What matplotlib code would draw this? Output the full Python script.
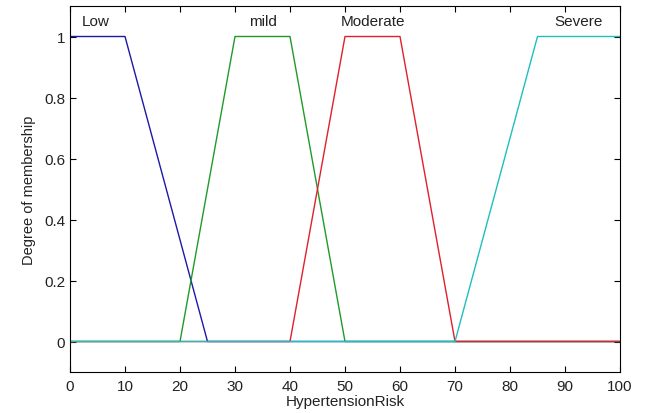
import matplotlib
matplotlib.use("Agg")
import matplotlib.pyplot as plt
import numpy as np

# membership functions (trapezoid corners)
mf_names = ["Low", "mild", "Moderate", "Severe"]
mf_params = [[0, 0, 10, 25], [20, 30, 40, 50], [40, 50, 60, 70], [70, 85, 100, 100]]
mf_colors = ["#1a1aa8", "#1f9a2a", "#e0202a", "#1fbfbf"]
label_x = [4.7, 35, 55, 92.5]
x_ticks = list(range(0, 101, 10))
y_ticks = [0, 0.2, 0.4, 0.6, 0.8, 1]
y_ticklabels = ["0", "0.2", "0.4", "0.6", "0.8", "1"]


def trapmf(x, p):
    a, b, c, d = p
    y = np.ones_like(x, dtype=float)
    if b > a:
        y = np.minimum(y, (x - a) / (b - a))
    else:
        y = np.where(x < a, 0.0, y)
    if d > c:
        y = np.minimum(y, (d - x) / (d - c))
    else:
        y = np.where(x > d, 0.0, y)
    return np.clip(y, 0, 1)


plt.rcParams['font.family'] = ['Liberation Sans', 'DejaVu Sans']
fig = plt.figure(figsize=(6.45, 4.14), dpi=100)
ax = fig.add_axes([70 / 645, 41 / 414, 550 / 645, 366 / 414])

xs = np.linspace(0, 100, 1001)
for name, p, c, lx in zip(mf_names, mf_params, mf_colors, label_x):
    ax.plot(xs, trapmf(xs, p), color=c, linewidth=1)
    ax.text(lx, 1.05, name, ha='center', va='center', fontsize=11, color='#222222')

ax.set_xlim(0, 100)
ax.set_ylim(-0.1, 1.1)
ax.set_xticks(x_ticks)
ax.set_yticks(y_ticks)
ax.set_yticklabels(y_ticklabels)
ax.tick_params(direction='in', top=True, right=True, labelsize=11, length=4, width=0.8,
               labelcolor='#222222')
ax.tick_params(axis='x', pad=5)
for s in ax.spines.values():
    s.set_linewidth(0.8)
ax.set_xlabel("HypertensionRisk", fontsize=11, labelpad=1, color='#222222')
ax.set_ylabel("Degree of membership", fontsize=10.5, labelpad=6, color='#222222')

plt.savefig('out.png', dpi=100)
